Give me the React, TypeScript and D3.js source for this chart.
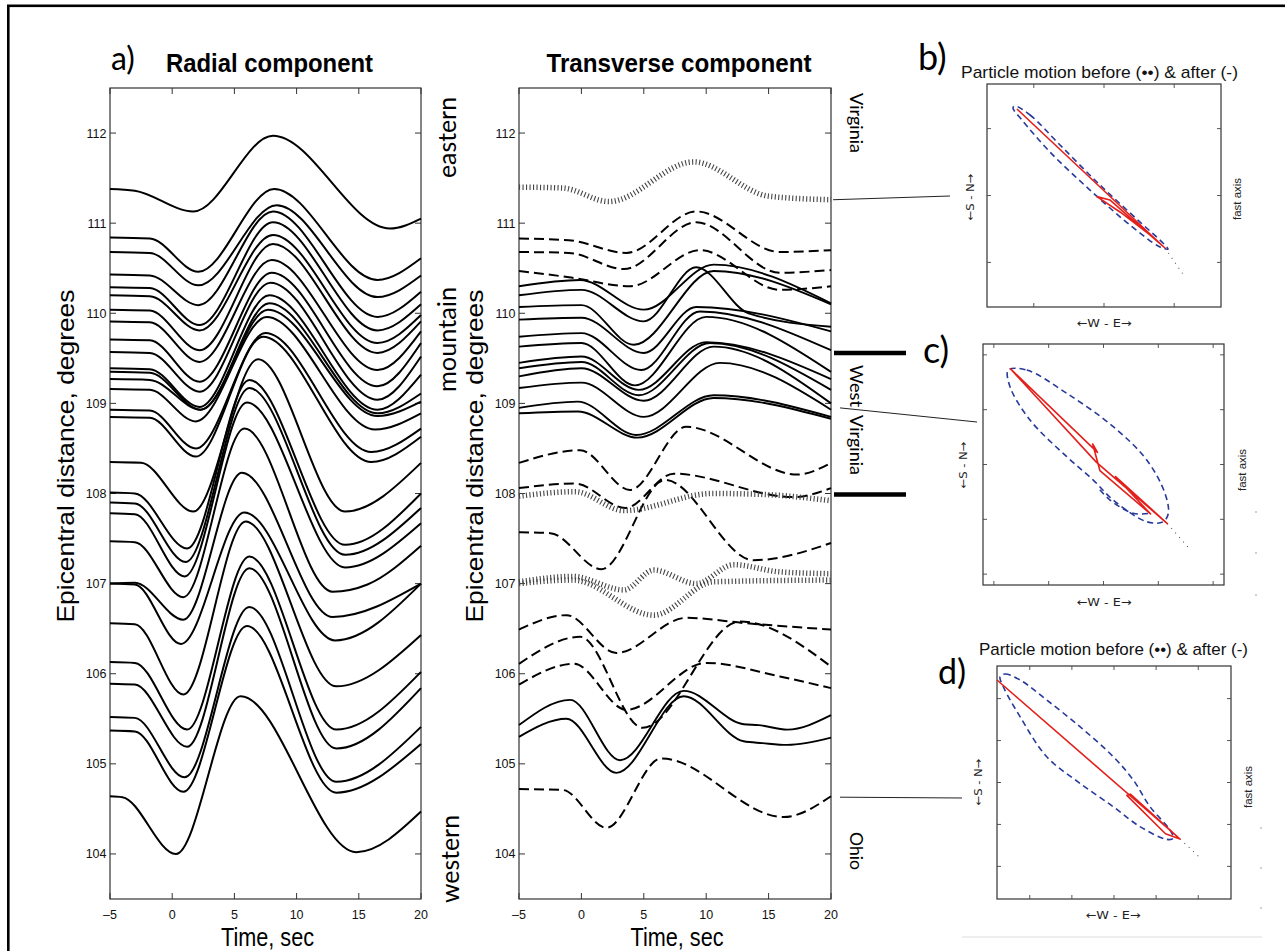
import React from "react";
import * as d3 from "d3";

type Pt = [number, number];

// ---------- axes ----------
const timeTicks: number[] = [-5, 0, 5, 10, 15, 20];
const distanceTicks: number[] = [104, 105, 106, 107, 108, 109, 110, 111, 112];

// ---------- a) Radial component: key points [time s, epicentral distance deg] ----------
const radialTraces: Pt[][] = [
  [[-5, 111.38], [-3, 111.36], [1.7, 111.13], [8.1, 111.97], [17.5, 110.94], [20, 111.05]],
  [[-5, 110.84], [-1.8, 110.83], [2.1, 110.46], [8.2, 111.38], [16.5, 110.37], [20, 110.61]],
  [[-5, 110.68], [-1.8, 110.67], [2.1, 110.31], [8.4, 111.2], [16.5, 110.18], [20, 110.42]],
  [[-5, 110.43], [-1.8, 110.42], [2.1, 110.09], [8.1, 111.13], [16.5, 109.96], [20, 110.24]],
  [[-5, 110.29], [-1.8, 110.28], [2.2, 109.87], [8.1, 111.01], [16.5, 109.81], [20, 110.1]],
  [[-5, 110.2], [-1.8, 110.19], [2.2, 109.81], [8.1, 110.87], [16.5, 109.67], [20, 109.98]],
  [[-5, 110.04], [-1.8, 110.03], [2.2, 109.59], [8.1, 110.77], [16.5, 109.56], [20, 109.91]],
  [[-5, 109.91], [-1.8, 109.9], [2.2, 109.46], [8.0, 110.59], [16.5, 109.37], [20, 109.8]],
  [[-5, 109.71], [-1.8, 109.7], [2.2, 109.24], [8.0, 110.45], [16.5, 109.19], [20, 109.67]],
  [[-5, 109.57], [-1.8, 109.56], [2.2, 109.13], [7.9, 110.34], [16.5, 109.04], [20, 109.52]],
  [[-5, 109.39], [-1.8, 109.38], [2.2, 108.96], [7.8, 110.2], [16.5, 108.93], [20, 109.32]],
  [[-5, 109.35], [-1.8, 109.34], [2.3, 108.93], [7.8, 110.11], [16.5, 108.89], [20, 109.11]],
  [[-5, 109.27], [-1.8, 109.26], [2.3, 108.93], [7.7, 110.04], [16.5, 108.86], [20, 109.02]],
  [[-5, 109.16], [-1.8, 109.15], [1.9, 108.8], [7.6, 109.96], [16.3, 108.71], [20, 108.89]],
  [[-5, 108.93], [-1.8, 108.92], [1.9, 108.5], [7.5, 109.78], [16.0, 108.46], [20, 108.72]],
  [[-5, 108.85], [-1.8, 108.84], [1.9, 108.41], [7.3, 109.74], [16.0, 108.35], [20, 108.63]],
  [[-5, 108.35], [-2.5, 108.34], [1.7, 107.8], [6.9, 109.49], [13.9, 107.8], [20, 108.34]],
  [[-5, 108.01], [-3, 108.0], [1.2, 107.39], [6.2, 109.26], [13.9, 107.43], [20, 108.0]],
  [[-5, 107.9], [-3, 107.89], [1.1, 107.24], [6.2, 109.17], [13.9, 107.32], [20, 107.84]],
  [[-5, 107.78], [-3, 107.77], [1.0, 107.08], [6.0, 109.01], [13.9, 107.18], [20, 107.67]],
  [[-5, 107.47], [-3, 107.46], [0.9, 106.85], [5.8, 108.72], [12.9, 106.91], [15.7, 106.99], [20, 107.42]],
  [[-5, 107.0], [-3, 107.01], [0.9, 106.6], [5.6, 108.23], [12.9, 106.63], [20, 107.0]],
  [[-5, 107.0], [-3, 106.99], [0.7, 106.33], [5.8, 107.79], [13.1, 106.37], [20, 107.0]],
  [[-5, 106.56], [-3, 106.55], [0.9, 105.77], [5.9, 107.69], [13.2, 105.86], [20, 106.43]],
  [[-5, 106.13], [-3, 106.12], [1.2, 105.38], [6.2, 107.3], [13.2, 105.38], [20, 106.02]],
  [[-5, 105.89], [-3, 105.88], [1.2, 105.19], [6.2, 107.17], [13.2, 105.17], [20, 105.84]],
  [[-5, 105.52], [-3, 105.51], [1.0, 104.85], [6.2, 106.74], [13.2, 104.8], [20, 105.41]],
  [[-5, 105.37], [-3, 105.36], [0.9, 104.69], [6.0, 106.53], [13.2, 104.68], [20, 105.22]],
  [[-5, 104.64], [-4, 104.63], [0.3, 104.0], [5.5, 105.75], [14.8, 104.02], [20, 104.47]],
];

// ---------- Transverse component ----------
const transverseSolid: Pt[][] = [
  [[-5, 110.3], [-0.1, 110.37], [5.0, 110.04], [10.6, 110.54], [20, 110.11]],
  [[-5, 110.2], [0, 110.26], [5.0, 109.91], [9.2, 110.51], [13.4, 110.0], [20, 109.85]],
  [[-5, 110.07], [0, 110.09], [4.2, 109.65], [10.6, 110.47], [20, 110.1]],
  [[-5, 109.93], [0, 109.95], [5.0, 109.56], [9.2, 110.07], [20, 109.8]],
  [[-5, 109.74], [0, 109.78], [4.8, 109.37], [9.5, 110.02], [20, 109.59]],
  [[-5, 109.63], [0, 109.67], [4.3, 109.2], [10.0, 109.96], [20, 109.35]],
  [[-5, 109.45], [0, 109.52], [4.6, 109.15], [10.0, 109.68], [20, 109.27]],
  [[-5, 109.39], [0, 109.46], [4.6, 109.09], [10.3, 109.67], [20, 109.15]],
  [[-5, 109.3], [0, 109.39], [5.0, 109.03], [10.6, 109.63], [20, 109.0]],
  [[-5, 109.17], [0, 109.23], [5.0, 108.85], [11.1, 109.45], [20, 108.93]],
  [[-5, 108.95], [-0.3, 109.02], [4.4, 108.65], [10.6, 109.09], [20, 108.85]],
  [[-5, 108.89], [-0.3, 108.91], [4.5, 108.62], [10.6, 109.06], [20, 108.83]],
  [[-5, 105.43], [-0.9, 105.71], [3.1, 105.04], [8.2, 105.81], [13.0, 105.44], [14.2, 105.43], [16.5, 105.38], [20, 105.54]],
  [[-5, 105.3], [-1.2, 105.5], [2.8, 104.9], [8.2, 105.75], [13.0, 105.25], [14.5, 105.23], [16.5, 105.21], [20, 105.29]],
];

const transverseDashed: Pt[][] = [
  [[-5, 110.83], [-1, 110.81], [3.6, 110.67], [9.2, 111.13], [15.9, 110.68], [20, 110.7]],
  [[-5, 110.68], [-1, 110.67], [3.4, 110.49], [9.2, 111.01], [15.9, 110.45], [20, 110.48]],
  [[-5, 110.47], [-1, 110.4], [3.9, 110.3], [9.5, 110.7], [15.9, 110.26], [20, 110.3]],
  [[-5, 108.34], [-0.1, 108.48], [3.9, 108.04], [8.4, 108.74], [17.3, 108.21], [20, 108.34]],
  [[-5, 108.06], [-0.5, 108.11], [3.5, 107.84], [7.4, 108.22], [17.0, 107.96], [20, 108.06]],
  [[-5, 107.57], [-2.5, 107.56], [1.6, 107.16], [6.7, 108.15], [13.8, 107.26], [20, 107.45]],
  [[-5, 106.49], [-1.2, 106.65], [2.8, 106.23], [8.4, 106.62], [13.2, 106.56], [20, 106.49]],
  [[-5, 106.11], [-0.1, 106.41], [4.9, 105.4], [12.7, 106.58], [20, 106.08]],
  [[-5, 105.88], [-0.6, 106.11], [3.6, 105.6], [10.0, 106.12], [15.9, 105.97], [20, 105.84]],
  [[-5, 104.72], [-1.5, 104.71], [2.0, 104.29], [6.4, 105.06], [16.2, 104.41], [20, 104.64]],
];

const transverseDotted: Pt[][] = [
  [[-5, 111.4], [-1.5, 111.39], [2.2, 111.24], [9.0, 111.68], [15.0, 111.3], [20, 111.26]],
  [[-5, 107.97], [-0.5, 108.02], [3.4, 107.81], [10.5, 108.0], [14.5, 107.99], [20, 107.92]],
  [[-5, 107.02], [-0.7, 107.08], [3.4, 106.93], [5.8, 107.15], [9.2, 107.0], [12.2, 107.21], [15.9, 107.13], [20, 107.11]],
  [[-5, 107.0], [-0.7, 107.04], [5.8, 106.65], [10.6, 107.02], [20, 107.04]],
];

// West Virginia boundaries and connector distances (deg)
const stateBoundaries: number[] = [109.56, 107.99];
const connectorDistances: number[] = [111.26, 108.95, 104.63];

// ---------- particle motion panels (normalised W-E, S-N) ----------
const pmTicksB: number[] = [-0.6, 0, 0.6];
const pmTicksC: number[] = [-0.91, -0.455, 0, 0.455, 0.91];
const pmTicksD: number[] = [-0.72, -0.36, 0, 0.36, 0.72];

const pmBeforeB: Pt[] = [
  [-0.761, 0.803], [-0.632, 0.722], [-0.376, 0.453], [-0.034, 0.094], [0.308, -0.238], [0.504, -0.426],
  [0.547, -0.48], [0.479, -0.462], [0.222, -0.265], [-0.12, 0.049], [-0.462, 0.39], [-0.701, 0.677], [-0.778, 0.785],
];
const pmAfterB: Pt[] = [
  [-0.744, 0.776], [0.521, -0.471], [0.39, -0.35], [0.14, -0.15], [-0.06, -0.01], [0.05, -0.04], [0.3, -0.27], [0.521, -0.471],
];
const pmAxisB: Pt[] = [[0.521, -0.471], [0.692, -0.731]];

const pmBeforeC: Pt[] = [
  [-0.79, 0.784], [-0.637, 0.784], [-0.305, 0.591], [0.081, 0.314], [0.359, 0.037], [0.51, -0.239], [0.538, -0.405],
  [0.496, -0.475], [0.359, -0.475], [0.081, -0.295], [-0.085, -0.129], [-0.305, 0.065], [-0.61, 0.369], [-0.776, 0.646],
];
const pmBeforeCInner: Pt[] = [[-0.03, -0.21], [0.054, -0.295], [0.247, -0.405], [0.386, -0.405]];
const pmAfterC: Pt[] = [
  [-0.776, 0.798], [-0.05, 0.1], [-0.09, 0.17], [-0.03, -0.05], [0.39, -0.41], [0.1, -0.1], [0.53, -0.49], [-0.06, 0.02], [-0.76, 0.78],
];
const pmAxisC: Pt[] = [[0.53, -0.49], [0.718, -0.704]];

const pmBeforeD: Pt[] = [
  [-0.974, 0.908], [-0.932, 0.931], [-0.803, 0.88], [-0.575, 0.708], [-0.291, 0.479], [-0.006, 0.221], [0.165, 0.021],
  [0.308, -0.208], [0.479, -0.408], [0.507, -0.479], [0.45, -0.488], [0.222, -0.379], [-0.006, -0.208], [-0.291, -0.007],
  [-0.575, 0.221], [-0.803, 0.565], [-0.946, 0.822],
];
const pmAfterD: Pt[] = [
  [-1.0, 0.88], [0.564, -0.485], [0.44, -0.44], [0.11, -0.11], [0.14, -0.1], [0.47, -0.4], [0.564, -0.485],
];
const pmAxisD: Pt[] = [[0.564, -0.485], [0.75, -0.659]];

const W = 1285;
const H = 951;

export default function App() {
  const sans = "'Liberation Sans', Arial, Helvetica, sans-serif";
  const arrows = "'DejaVu Sans', 'Liberation Sans', sans-serif";
  const humanist = "Lato, 'Open Sans', 'DejaVu Sans', sans-serif";

  const yDist = d3.scaleLinear().domain([103.5, 112.5]).range([899, 88]);
  const xRad = d3.scaleLinear().domain([-5, 20]).range([110, 421]);
  const xTrn = d3.scaleLinear().domain([-5, 20]).range([519, 831]);

  const lineRad = d3
    .line<Pt>()
    .x((d) => xRad(d[0]))
    .y((d) => yDist(d[1]))
    .curve(d3.curveMonotoneX);
  const lineTrn = d3
    .line<Pt>()
    .x((d) => xTrn(d[0]))
    .y((d) => yDist(d[1]))
    .curve(d3.curveMonotoneX);

  const fmtTime = (t: number) => (t < 0 ? `\u2013${-t}` : `${t}`);

  const waveAxes = (x: d3.ScaleLinear<number, number>, key: string) => {
    const [xa, xb] = x.range();
    const [yb, ya] = yDist.range();
    const tc = "#333";
    return (
      <g key={key}>
        <rect x={xa} y={ya} width={xb - xa} height={yb - ya} fill="none" stroke={tc} strokeWidth={1.2} />
        {timeTicks.map((t) => (
          <g key={`t${t}`}>
            <line x1={x(t)} x2={x(t)} y1={yb} y2={yb - 6} stroke={tc} strokeWidth={1} />
            <line x1={x(t)} x2={x(t)} y1={ya} y2={ya + 6} stroke={tc} strokeWidth={1} />
            <text x={x(t)} y={919} textAnchor="middle" fontFamily={sans} fontSize={12.5} fill="#111">
              {fmtTime(t)}
            </text>
          </g>
        ))}
        {distanceTicks.map((d) => (
          <g key={`d${d}`}>
            <line x1={xa} x2={xa + 6} y1={yDist(d)} y2={yDist(d)} stroke={tc} strokeWidth={1} />
            <line x1={xb} x2={xb - 6} y1={yDist(d)} y2={yDist(d)} stroke={tc} strokeWidth={1} />
            <text x={xa - 3.5} y={yDist(d) + 4.5} textAnchor="end" fontFamily={sans} fontSize={12.5} fill="#111">
              {d}
            </text>
          </g>
        ))}
        <text
          x={(xa + xb) / 2 + 2}
          y={946}
          textAnchor="middle"
          fontFamily={sans}
          fontSize={26}
          textLength={93}
          lengthAdjust="spacingAndGlyphs"
          fill="#000"
        >
          Time, sec
        </text>
      </g>
    );
  };

  const pmPanels = [
    {
      id: "b", x0: 987, y0: 84, x1: 1221, y1: 307, ticks: pmTicksB, before: pmBeforeB, inner: null as Pt[] | null,
      after: pmAfterB, axis: pmAxisB, sn: [974, 197], fa: [1241, 199], we: [1104, 327],
    },
    {
      id: "c", x0: 983, y0: 344, x1: 1224, y1: 585, ticks: pmTicksC, before: pmBeforeC, inner: pmBeforeCInner,
      after: pmAfterC, axis: pmAxisC, sn: [967, 465], fa: [1246, 470], we: [1104, 606],
    },
    {
      id: "d", x0: 997, y0: 666, x1: 1231, y1: 899, ticks: pmTicksD, before: pmBeforeD, inner: null as Pt[] | null,
      after: pmAfterD, axis: pmAxisD, sn: [982, 782], fa: [1252, 787], we: [1113, 919],
    },
  ];

  const blue = "#27399b";
  const red = "#e3201b";

  return (
    <svg
      width={W}
      height={H}
      viewBox={`0 0 ${W} ${H}`}
      style={{ position: "absolute", left: 0, top: 0, background: "#fff", display: "block" }}
    >
      <rect x={0} y={0} width={W} height={H} fill="#fff" />
      {/* outer frame */}
      <rect x={8.3} y={5.8} width={W + 20} height={H + 20} fill="none" stroke="#000" strokeWidth={2.6} />

      {/* ---------- a) radial ---------- */}
      <text x={111} y={70} fontFamily={humanist} fontSize={32} fill="#000">
        a)
      </text>
      <text
        x={269.5}
        y={72}
        textAnchor="middle"
        fontFamily={sans}
        fontWeight="bold"
        fontSize={25}
        textLength={207}
        lengthAdjust="spacingAndGlyphs"
      >
        Radial component
      </text>
      <text
        transform="translate(74,456) rotate(-90)"
        textAnchor="middle"
        fontFamily={sans}
        fontSize={24}
        textLength={333}
        lengthAdjust="spacingAndGlyphs"
      >
        Epicentral distance, degrees
      </text>
      {waveAxes(xRad, "axA")}
      <g fill="none" stroke="#000" strokeWidth={2}>
        {radialTraces.map((tr, i) => (
          <path key={i} d={lineRad(tr) || ""} />
        ))}
      </g>

      {/* region labels */}
      <text transform="translate(456,137.5) rotate(-90)" textAnchor="middle" fontFamily={humanist} fontSize={25} textLength={81} lengthAdjust="spacingAndGlyphs">
        eastern
      </text>
      <text transform="translate(456,339.5) rotate(-90)" textAnchor="middle" fontFamily={humanist} fontSize={25} textLength={105} lengthAdjust="spacingAndGlyphs">
        mountain
      </text>
      <text transform="translate(459,859) rotate(-90)" textAnchor="middle" fontFamily={humanist} fontSize={25} textLength={88} lengthAdjust="spacingAndGlyphs">
        western
      </text>

      {/* ---------- transverse ---------- */}
      <text
        x={679}
        y={72}
        textAnchor="middle"
        fontFamily={sans}
        fontWeight="bold"
        fontSize={25}
        textLength={265}
        lengthAdjust="spacingAndGlyphs"
      >
        Transverse component
      </text>
      <text
        transform="translate(483,456) rotate(-90)"
        textAnchor="middle"
        fontFamily={sans}
        fontSize={24}
        textLength={333}
        lengthAdjust="spacingAndGlyphs"
      >
        Epicentral distance, degrees
      </text>
      {waveAxes(xTrn, "axB")}
      <g fill="none" stroke="#000" strokeWidth={1.9}>
        {transverseSolid.map((tr, i) => (
          <path key={i} d={lineTrn(tr) || ""} />
        ))}
      </g>
      <g fill="none" stroke="#000" strokeWidth={2} strokeDasharray="10 5">
        {transverseDashed.map((tr, i) => (
          <path key={i} d={lineTrn(tr) || ""} />
        ))}
      </g>
      <g fill="none" stroke="#444" strokeWidth={5.5} strokeDasharray="1.1 2.4">
        {transverseDotted.map((tr, i) => (
          <path key={i} d={lineTrn(tr) || ""} />
        ))}
      </g>

      {/* state labels */}
      <text transform="translate(850,123) rotate(90)" textAnchor="middle" fontFamily={humanist} fontSize={18} textLength={60} lengthAdjust="spacingAndGlyphs">
        Virginia
      </text>
      <text transform="translate(850,386) rotate(90)" textAnchor="middle" fontFamily={humanist} fontSize={18} textLength={42} lengthAdjust="spacingAndGlyphs">
        West
      </text>
      <text transform="translate(850,445) rotate(90)" textAnchor="middle" fontFamily={humanist} fontSize={18} textLength={60} lengthAdjust="spacingAndGlyphs">
        Virginia
      </text>
      <text transform="translate(850,851) rotate(90)" textAnchor="middle" fontFamily={humanist} fontSize={18} textLength={38} lengthAdjust="spacingAndGlyphs">
        Ohio
      </text>

      {/* boundaries */}
      {stateBoundaries.map((b) => (
        <line key={b} x1={834} x2={906} y1={yDist(b)} y2={yDist(b)} stroke="#000" strokeWidth={4.5} />
      ))}
      {/* connectors */}
      <line x1={833} y1={yDist(connectorDistances[0])} x2={950} y2={196} stroke="#222" strokeWidth={1} />
      <line x1={840} y1={yDist(connectorDistances[1])} x2={977} y2={422} stroke="#222" strokeWidth={1} />
      <line x1={840} y1={yDist(connectorDistances[2])} x2={962} y2={798} stroke="#222" strokeWidth={1} />

      {/* ---------- particle motion panels ---------- */}
      <text x={1099.5} y={78} textAnchor="middle" fontFamily={sans} fontSize={17} textLength={277} lengthAdjust="spacingAndGlyphs" fill="#111">
        Particle motion before (••) &amp; after (-)
      </text>
      <text x={1113.5} y={655} textAnchor="middle" fontFamily={sans} fontSize={17} textLength={269} lengthAdjust="spacingAndGlyphs" fill="#111">
        Particle motion before (••) &amp; after (-)
      </text>
      <text x={918} y={70} fontFamily={humanist} fontSize={36}>
        b)
      </text>
      <text x={923} y={363} fontFamily={humanist} fontSize={36}>
        c)
      </text>
      <text x={938} y={684} fontFamily={humanist} fontSize={34}>
        d)
      </text>

      {pmPanels.map((p) => {
        const sx = d3.scaleLinear().domain([-1, 1]).range([p.x0, p.x1]);
        const sy = d3.scaleLinear().domain([-1, 1]).range([p.y1, p.y0]);
        const lin = d3
          .line<Pt>()
          .x((d) => sx(d[0]))
          .y((d) => sy(d[1]));
        const smooth = d3
          .line<Pt>()
          .x((d) => sx(d[0]))
          .y((d) => sy(d[1]))
          .curve(d3.curveCatmullRom.alpha(0.5));
        const closed = d3
          .line<Pt>()
          .x((d) => sx(d[0]))
          .y((d) => sy(d[1]))
          .curve(d3.curveCatmullRomClosed.alpha(0.5));
        const tl = 4;
        return (
          <g key={p.id}>
            <rect x={p.x0} y={p.y0} width={p.x1 - p.x0} height={p.y1 - p.y0} fill="#fff" stroke="#333" strokeWidth={1.2} />
            {p.ticks.map((t) => (
              <g key={t} stroke="#444" strokeWidth={0.9}>
                <line x1={sx(t)} x2={sx(t)} y1={p.y1} y2={p.y1 - tl} />
                <line x1={sx(t)} x2={sx(t)} y1={p.y0} y2={p.y0 + tl} />
                <line x1={p.x0} x2={p.x0 + tl} y1={sy(t)} y2={sy(t)} />
                <line x1={p.x1} x2={p.x1 - tl} y1={sy(t)} y2={sy(t)} />
              </g>
            ))}
            <path d={lin(p.axis) || ""} fill="none" stroke="#555" strokeWidth={1.1} strokeDasharray="1 5" />
            <path d={closed(p.before) || ""} fill="none" stroke={blue} strokeWidth={1.6} strokeDasharray="6 4" />
            {p.inner && <path d={smooth(p.inner) || ""} fill="none" stroke={blue} strokeWidth={1.6} strokeDasharray="6 4" />}
            <path d={lin(p.after) || ""} fill="none" stroke={red} strokeWidth={1.6} strokeLinejoin="round" />
            <text
              transform={`translate(${p.sn[0]},${p.sn[1]}) rotate(-90)`}
              textAnchor="middle"
              fontFamily={arrows}
              fontSize={10.5}
              textLength={47}
              lengthAdjust="spacingAndGlyphs"
              fill="#222"
            >
              ←S - N→
            </text>
            <text
              transform={`translate(${p.fa[0]},${p.fa[1]}) rotate(-90)`}
              textAnchor="middle"
              fontFamily={sans}
              fontSize={11.5}
              textLength={42}
              lengthAdjust="spacingAndGlyphs"
              fill="#222"
            >
              fast axis
            </text>
            <text
              x={p.we[0]}
              y={p.we[1]}
              textAnchor="middle"
              fontFamily={arrows}
              fontSize={11}
              textLength={55}
              lengthAdjust="spacingAndGlyphs"
              fill="#222"
            >
              ←W - E→
            </text>
          </g>
        );
      })}

      {/* small marks at right edge */}
      {[512, 553, 595].map((y) => (
        <circle key={`c${y}`} cx={1256} cy={y} r={0.8} fill="#999" />
      ))}
      {[828, 868, 908].map((y) => (
        <circle key={`d${y}`} cx={1261} cy={y} r={0.8} fill="#999" />
      ))}
      <line x1={962} x2={1262} y1={937} y2={937} stroke="#eeeeee" strokeWidth={2} />
    </svg>
  );
}
